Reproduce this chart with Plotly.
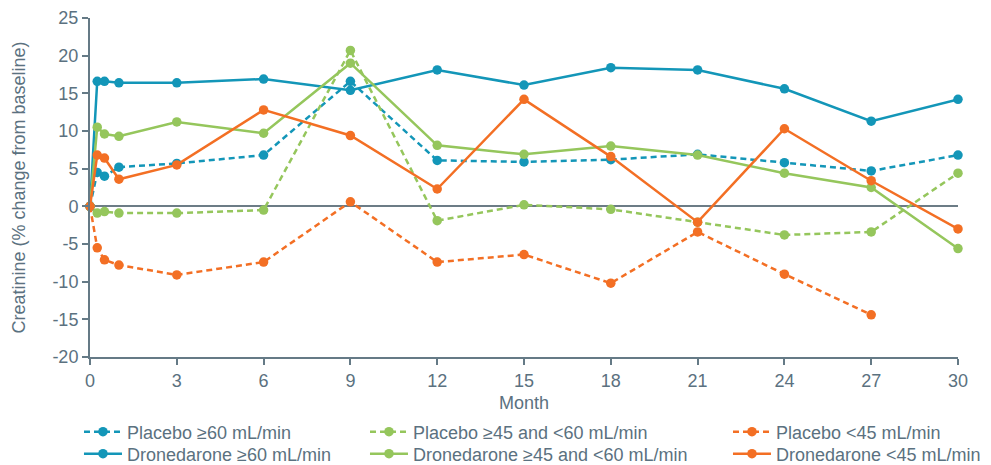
import plotly.graph_objects as go

months = [0, 0.25, 0.5, 1, 3, 6, 9, 12, 15, 18, 21, 24, 27, 30]
months_p45 = [0, 0.25, 0.5, 1, 3, 6, 9, 12, 15, 18, 21, 24, 27]

placebo_ge60 = [0, 4.5, 4.0, 5.2, 5.7, 6.8, 16.6, 6.1, 5.9, 6.2, 6.9, 5.8, 4.7, 6.8]
placebo_45_60 = [0, -0.9, -0.7, -0.9, -0.9, -0.5, 20.7, -1.9, 0.2, -0.4, -2.1, -3.8, -3.4, 4.4]
placebo_lt45 = [0, -5.5, -7.1, -7.8, -9.1, -7.4, 0.6, -7.4, -6.4, -10.2, -3.4, -9.0, -14.4]
dron_ge60 = [0, 16.6, 16.6, 16.4, 16.4, 16.9, 15.4, 18.1, 16.1, 18.4, 18.1, 15.6, 11.3, 14.2]
dron_45_60 = [0, 10.5, 9.6, 9.3, 11.2, 9.7, 19.0, 8.1, 6.9, 8.0, 6.8, 4.4, 2.5, -5.6]
dron_lt45 = [0, 6.8, 6.4, 3.6, 5.5, 12.8, 9.4, 2.3, 14.2, 6.6, -2.1, 10.3, 3.4, -3.0]

names = [
    "Placebo ≥60 mL/min", "Placebo ≥45 and <60 mL/min", "Placebo <45 mL/min",
    "Dronedarone ≥60 mL/min", "Dronedarone ≥45 and <60 mL/min", "Dronedarone <45 mL/min",
]
x_ticks = [0, 3, 6, 9, 12, 15, 18, 21, 24, 27, 30]
y_ticks = [-20, -15, -10, -5, 0, 5, 10, 15, 20, 25]
y_ticktext = ["-20", "-15", "-10", "-5", "0", "5", "10", "15", "20", "25"]

BLUE = "#1396b8"
GREEN = "#95c65c"
ORANGE = "#f36f24"
TEXT = "#5b7180"
AXIS = "#657a86"
FONT = "Liberation Sans, Arial, sans-serif"

series = [
    (placebo_ge60, months, BLUE, True),
    (placebo_45_60, months, GREEN, True),
    (placebo_lt45, months_p45, ORANGE, True),
    (dron_ge60, months, BLUE, False),
    (dron_45_60, months, GREEN, False),
    (dron_lt45, months, ORANGE, False),
]

# one legend per entry: 3 columns x 2 rows
col_x = [-0.0127, 0.3168, 0.735]
row_y = [1 - 432 / 465, 1 - 454 / 465]

fig = go.Figure()
legends = {}
for i, ((vals, xs, col, dashed), name) in enumerate(zip(series, names)):
    lg = "legend" if i == 0 else f"legend{i + 1}"
    fig.add_trace(go.Scatter(
        x=xs, y=vals, name=name, mode="lines+markers",
        line=dict(color=col, width=2.5, dash="6px,4px" if dashed else "solid"),
        marker=dict(color=col, size=9.5),
        cliponaxis=False, legend=lg, showlegend=True,
    ))
    legends[lg] = dict(
        orientation="v", yref="container", yanchor="middle", y=row_y[i // 3],
        xanchor="left", x=col_x[i % 3],
        font=dict(family=FONT, size=18, color=TEXT),
        bgcolor="rgba(0,0,0,0)", itemwidth=38, visible=True,
    )

fig.update_layout(
    width=991, height=465,
    showlegend=True,
    margin=dict(l=90, r=33, t=18, b=108),
    paper_bgcolor="white", plot_bgcolor="white",
    font=dict(family=FONT, size=18, color=TEXT),
    xaxis=dict(
        range=[0, 30], tickmode="array", tickvals=x_ticks,
        showline=True, linecolor=AXIS, linewidth=2,
        ticks="outside", tickcolor=AXIS, ticklen=6, tickwidth=2,
        showgrid=False, zeroline=False, automargin=False,
        title=dict(text="Month", font=dict(size=18, color=TEXT), standoff=8),
        tickfont=dict(size=18, color=TEXT),
    ),
    yaxis=dict(
        range=[-20, 25], tickmode="array", tickvals=y_ticks, ticktext=y_ticktext,
        showline=True, linecolor=AXIS, linewidth=2,
        ticks="outside", tickcolor=AXIS, ticklen=6, tickwidth=2,
        showgrid=False, zeroline=True, zerolinecolor="#6c7c86", zerolinewidth=1.5,
        automargin=False,
        title=dict(text="Creatinine (% change from baseline)", font=dict(size=18, color=TEXT), standoff=22),
        tickfont=dict(size=18, color=TEXT),
    ),
    **legends,
)

fig.write_html("out.html", post_script="document.body.style.margin='0';",
               config={"displayModeBar": False})
